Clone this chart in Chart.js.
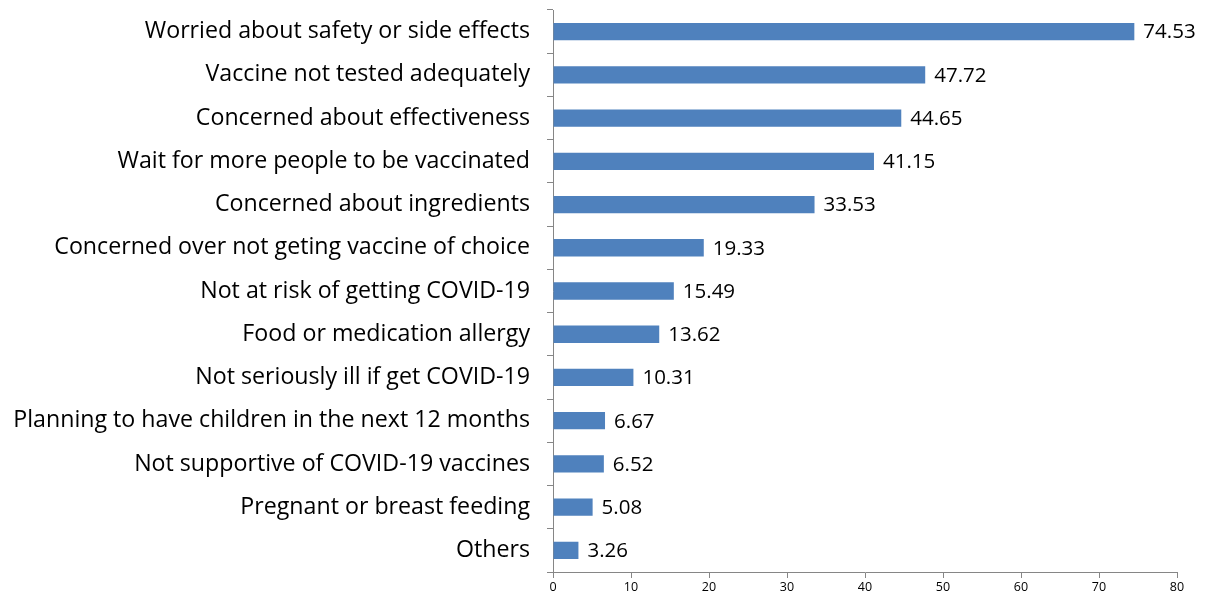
<!DOCTYPE html>
<html>
<head>
<meta charset="utf-8">
<script src="https://cdn.jsdelivr.net/npm/chart.js@4/dist/chart.umd.min.js"></script>
<style>
  html, body { margin: 0; padding: 0; background: #fff; }
  #wrap { width: 1206px; height: 601px; }
</style>
</head>
<body>
<div id="wrap"><canvas id="myChart" width="1206" height="601"></canvas></div>
<script>
const reasons = [
  'Worried about safety or side effects',
  'Vaccine not tested adequately',
  'Concerned about effectiveness',
  'Wait for more people to be vaccinated',
  'Concerned about ingredients',
  'Concerned over not geting vaccine of choice',
  'Not at risk of getting COVID-19',
  'Food or medication allergy',
  'Not seriously ill if get COVID-19',
  'Planning to have children in the next 12 months',
  'Not supportive of COVID-19 vaccines',
  'Pregnant or breast feeding',
  'Others'
];
const percents = [74.53, 47.72, 44.65, 41.15, 33.53, 19.33, 15.49, 13.62, 10.31, 6.67, 6.52, 5.08, 3.26];
const xTicks = [0, 10, 20, 30, 40, 50, 60, 70, 80];

// value labels at the end of each bar
const valueLabels = {
  id: 'valueLabels',
  afterDatasetsDraw(chart) {
    const ctx = chart.ctx;
    const meta = chart.getDatasetMeta(0);
    ctx.save();
    ctx.font = '20.5px "Open Sans"';
    ctx.fillStyle = '#000';
    ctx.textAlign = 'left';
    ctx.textBaseline = 'middle';
    meta.data.forEach((bar, i) => {
      ctx.fillText(percents[i].toFixed(2), bar.x + 9, bar.y + 1);
    });
    ctx.restore();
  }
};

const data = {
  labels: reasons,
  datasets: [{
    data: percents,
    backgroundColor: '#4F81BD',
    borderWidth: 0,
    categoryPercentage: 1,
    barPercentage: 0.4
  }]
};

const config = {
  type: 'bar',
  data,
  options: {
    indexAxis: 'y',
    responsive: false,
    animation: false,
    layout: { padding: { left: 0, right: 29, top: 10, bottom: 4 } },
    plugins: {
      legend: { display: false },
      tooltip: { enabled: false }
    },
    scales: {
      x: {
        min: 0,
        max: 80,
        afterBuildTicks(scale) {
          scale.ticks = xTicks.map(v => ({ value: v }));
        },
        grid: {
          drawOnChartArea: false,
          drawTicks: true,
          tickLength: 6,
          color: '#868686'
        },
        border: { color: '#868686', width: 1 },
        ticks: {
          color: '#000',
          font: { family: 'Open Sans', size: 12.5 },
          padding: 2,
          maxRotation: 0
        }
      },
      y: {
        afterFit(scale) {
          scale.width = 553;
          scale.paddingTop = 0;
          scale.paddingBottom = 0;
        },
        grid: {
          offset: true,
          drawOnChartArea: false,
          drawTicks: true,
          tickLength: 6,
          color: '#868686'
        },
        border: { color: '#868686', width: 1 },
        ticks: {
          color: '#000',
          font: { family: 'Open Sans', size: 23.2 },
          padding: 17,
          autoSkip: false
        }
      }
    }
  },
  plugins: [valueLabels]
};

const myChart = new Chart(document.getElementById('myChart'), config);
</script>
</body>
</html>
